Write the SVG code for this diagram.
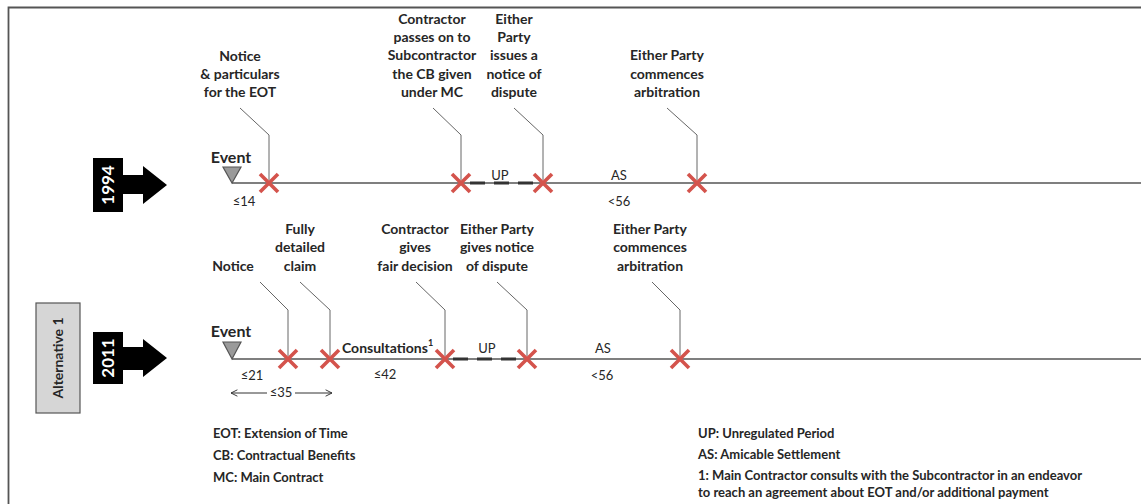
<svg xmlns="http://www.w3.org/2000/svg" width="1141" height="504" viewBox="0 0 1141 504">
  <style>
    .lbl { font-family: Lato, "Liberation Sans", sans-serif; font-weight: bold; font-size: 14px; fill: #262626; text-anchor: middle; }
    .sm { font-family: Lato, "Liberation Sans", sans-serif; font-size: 13px; fill: #262626; text-anchor: middle; }
    .leg { font-family: Lato, "Liberation Sans", sans-serif; font-weight: bold; font-size: 13px; fill: #262626; }
    .yr { font-family: Lato, "Liberation Sans", sans-serif; font-weight: bold; font-size: 17px; fill: #ffffff; text-anchor: middle; }
    .ev { font-family: Lato, "Liberation Sans", sans-serif; font-weight: bold; font-size: 16px; fill: #262626; text-anchor: middle; }
    .axis { stroke: #555; stroke-width: 1.3; fill: none; }
    .lead { stroke: #666; stroke-width: 1; fill: none; }
    .dash { stroke: #333; stroke-width: 3; stroke-dasharray: 15 9; fill: none; }
    .tri { fill: #9a9a9a; stroke: #555; stroke-width: 1.2; }
    .blk { fill: #000; }
  </style>
  <defs>
    <g id="cross">
      <path d="M-9,-9 L9,9 M9,-9 L-9,9" stroke="#d4534c" stroke-width="3.6" stroke-linecap="butt"/>
    </g>
    <marker id="open" viewBox="0 0 10 10" refX="9" refY="5" markerWidth="8" markerHeight="8" orient="auto-start-reverse" markerUnits="userSpaceOnUse">
      <path d="M1,1 L9,5 L1,9" fill="none" stroke="#333" stroke-width="1.2"/>
    </marker>
  </defs>

  <rect width="1141" height="504" fill="#fff"/>
  <!-- frame -->
  <path d="M1141,7.5 H8.5 V504" fill="none" stroke="#555" stroke-width="1.8"/>

  <!-- scenario box -->
  <g id="alternative1">
    <rect x="36" y="303" width="44" height="110" fill="#d6d6d6" stroke="#555" stroke-width="1.2"/>
    <text class="lbl" transform="translate(63,358) rotate(-90)">Alternative 1</text>
  </g>

  <!-- year markers -->
  <g id="year1994">
    <rect class="blk" x="93" y="158" width="30" height="54"/>
    <polygon class="blk" points="122,175 143,175 143,166 167,185 143,204 143,194 122,194"/>
    <text class="yr" transform="translate(114,185) rotate(-90)">1994</text>
  </g>
  <g id="year2011">
    <rect class="blk" x="93" y="332" width="30" height="52"/>
    <polygon class="blk" points="122,347 143,347 143,339 167,358 143,377 143,370 122,370"/>
    <text class="yr" transform="translate(114,358) rotate(-90)">2011</text>
  </g>

  <!-- connectors: timelines, leader lines, periods -->
  <g id="connectors">
    <line class="axis" x1="232" y1="183" x2="1141" y2="183"/>
    <line class="axis" x1="232" y1="359" x2="1141" y2="359"/>
    <line class="dash" x1="470" y1="183" x2="540" y2="183"/>
    <line class="dash" x1="453" y1="359" x2="522" y2="359"/>
    <!-- 1994 leaders -->
    <path class="lead" d="M269,180 V135 L240,108"/>
    <path class="lead" d="M461,180 V135 L433,108"/>
    <path class="lead" d="M543,180 V135 L514,108"/>
    <path class="lead" d="M697,180 V135 L667,108"/>
    <!-- 2011 leaders -->
    <path class="lead" d="M288,356 V310 L260,282"/>
    <path class="lead" d="M330,356 V310 L300,282"/>
    <path class="lead" d="M445,356 V310 L416,282"/>
    <path class="lead" d="M527,356 V310 L497,282"/>
    <path class="lead" d="M680,356 V310 L652,282"/>
    <!-- 35-day span -->
    <line x1="231" y1="393" x2="267" y2="393" stroke="#333" stroke-width="1" marker-start="url(#open)"/>
    <line x1="295" y1="393" x2="332" y2="393" stroke="#333" stroke-width="1" marker-end="url(#open)"/>
  </g>

  <!-- 1994 route -->
  <g id="event1994">
    <polygon class="tri" points="223,167 241,167 232,183"/>
    <text class="ev" x="231" y="163">Event</text>
    <text class="sm" x="244" y="206">≤14</text>
  </g>
  <g id="notice1994">
    <use href="#cross" x="269" y="183"/>
    <text class="lbl" x="240" y="61">Notice</text>
    <text class="lbl" x="240" y="79">&amp; particulars</text>
    <text class="lbl" x="240" y="97">for the EOT</text>
  </g>
  <g id="passon1994">
    <use href="#cross" x="461" y="183"/>
    <text class="lbl" x="432" y="24">Contractor</text>
    <text class="lbl" x="432" y="42">passes on to</text>
    <text class="lbl" x="432" y="60">Subcontractor</text>
    <text class="lbl" x="432" y="79">the CB given</text>
    <text class="lbl" x="432" y="97">under MC</text>
    <text class="sm" x="500" y="180">UP</text>
  </g>
  <g id="dispute1994">
    <use href="#cross" x="543" y="183"/>
    <text class="lbl" x="514" y="24">Either</text>
    <text class="lbl" x="514" y="42">Party</text>
    <text class="lbl" x="514" y="60">issues a</text>
    <text class="lbl" x="514" y="79">notice of</text>
    <text class="lbl" x="514" y="97">dispute</text>
    <text class="sm" x="619" y="180">AS</text>
    <text class="sm" x="619" y="206">&lt;56</text>
  </g>
  <g id="arbitration1994">
    <use href="#cross" x="697" y="183"/>
    <text class="lbl" x="667" y="60">Either Party</text>
    <text class="lbl" x="667" y="79">commences</text>
    <text class="lbl" x="667" y="97">arbitration</text>
  </g>

  <!-- 2011 route -->
  <g id="event2011">
    <polygon class="tri" points="223,342 241,342 232,359"/>
    <text class="ev" x="231" y="337">Event</text>
    <text class="sm" x="252" y="380">≤21</text>
    <text class="sm" x="281" y="397">≤35</text>
  </g>
  <g id="notice2011">
    <use href="#cross" x="288" y="359"/>
    <text class="lbl" x="233" y="271">Notice</text>
  </g>
  <g id="claim2011">
    <use href="#cross" x="330" y="359"/>
    <text class="lbl" x="300" y="234">Fully</text>
    <text class="lbl" x="300" y="252">detailed</text>
    <text class="lbl" x="300" y="271">claim</text>
    <text class="lbl" x="342" y="353" style="text-anchor:start">Consultations<tspan font-size="9" dy="-7">1</tspan></text>
    <text class="sm" x="385" y="379">≤42</text>
  </g>
  <g id="decision2011">
    <use href="#cross" x="445" y="359"/>
    <text class="lbl" x="415" y="234">Contractor</text>
    <text class="lbl" x="415" y="252">gives</text>
    <text class="lbl" x="415" y="271">fair decision</text>
    <text class="sm" x="487" y="353">UP</text>
  </g>
  <g id="dispute2011">
    <use href="#cross" x="527" y="359"/>
    <text class="lbl" x="497" y="234">Either Party</text>
    <text class="lbl" x="497" y="252">gives notice</text>
    <text class="lbl" x="497" y="271">of dispute</text>
    <text class="sm" x="603" y="353">AS</text>
    <text class="sm" x="602" y="380">&lt;56</text>
  </g>
  <g id="arbitration2011">
    <use href="#cross" x="680" y="359"/>
    <text class="lbl" x="650" y="234">Either Party</text>
    <text class="lbl" x="650" y="252">commences</text>
    <text class="lbl" x="650" y="271">arbitration</text>
  </g>

  <!-- abbreviations -->
  <g id="legend">
    <text class="leg" x="213" y="438">EOT: Extension of Time</text>
    <text class="leg" x="213" y="460">CB: Contractual Benefits</text>
    <text class="leg" x="213" y="482">MC: Main Contract</text>
    <text class="leg" x="698" y="438">UP: Unregulated Period</text>
    <text class="leg" x="698" y="459">AS: Amicable Settlement</text>
    <text class="leg" x="698" y="480">1: Main Contractor consults with the Subcontractor in an endeavor</text>
    <text class="leg" x="698" y="497">to reach an agreement about EOT and/or additional payment</text>
  </g>
</svg>
